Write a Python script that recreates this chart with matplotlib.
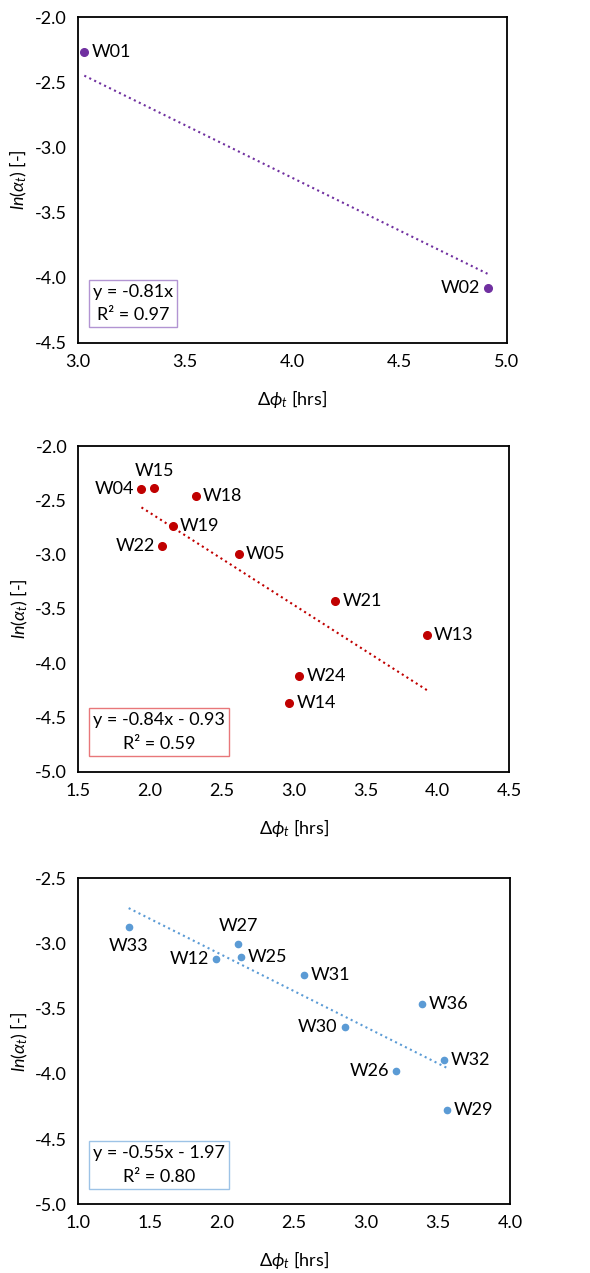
import numpy as np
import matplotlib
matplotlib.use("Agg")
from matplotlib import pyplot as plt

plt.rcParams['font.family'] = ['Lato', 'DejaVu Sans']
plt.rcParams['mathtext.fontset'] = 'custom'
plt.rcParams['mathtext.rm'] = 'Lato'
plt.rcParams['mathtext.it'] = 'Lato:italic'
plt.rcParams['font.size'] = 12

# --- group 1 ---
wells_a = ['W01', 'W02']
dphi_a = [3.03, 4.91]
lnalpha_a = [-2.27, -4.08]
pos_a = ['right', 'left']
eq_a = 'y = -0.81x\nR² = 0.97'

# --- group 2 ---
wells_b = ['W04', 'W15', 'W18', 'W19', 'W22', 'W05', 'W21', 'W13', 'W24', 'W14']
dphi_b = [1.94, 2.03, 2.32, 2.16, 2.08, 2.62, 3.29, 3.93, 3.04, 2.97]
lnalpha_b = [-2.40, -2.39, -2.46, -2.74, -2.92, -2.99, -3.43, -3.74, -4.12, -4.37]
pos_b = ['left', 'above', 'right', 'right', 'left', 'right', 'right', 'right', 'right', 'right']
eq_b = 'y = -0.84x - 0.93\nR² = 0.59'

# --- group 3 ---
wells_c = ['W33', 'W27', 'W12', 'W25', 'W31', 'W36', 'W30', 'W32', 'W26', 'W29']
dphi_c = [1.35, 2.11, 1.96, 2.13, 2.57, 3.39, 2.85, 3.54, 3.21, 3.56]
lnalpha_c = [-2.87, -3.00, -3.12, -3.10, -3.24, -3.46, -3.64, -3.89, -3.98, -4.28]
pos_c = ['below', 'above', 'left', 'right', 'right', 'right', 'left', 'right', 'left', 'right']
eq_c = 'y = -0.55x - 1.97\nR² = 0.80'

offsets = {'right': ((5, 0), 'left', 'center'),
           'left': ((-5, 0), 'right', 'center'),
           'above': ((0, 7), 'center', 'bottom'),
           'below': ((0, -8), 'center', 'top')}


def draw_panel(ax, x, y, names, pos, eq, color, boxcolor, msize, xlim, ylim, through_origin=False):
    x = np.array(x)
    y = np.array(y)
    ax.plot(x, y, 'o', color=color, markersize=msize, zorder=3)
    for xi, yi, n, p in zip(x, y, names, pos):
        off, ha, va = offsets[p]
        ax.annotate(n, (xi, yi), xytext=off, textcoords='offset points',
                    ha=ha, va=va, fontsize=13)
    # linear trendline
    if through_origin:
        slope = np.sum(x * y) / np.sum(x * x)
        icpt = 0.
    else:
        slope, icpt = np.polyfit(x, y, 1)
    xx = np.array([x.min(), x.max()])
    ax.plot(xx, slope * xx + icpt, ':', color=color, linewidth=1.5)
    ax.text(0.035, 0.06, eq, transform=ax.transAxes, ha='left', va='bottom',
            multialignment='center', fontsize=13, linespacing=1.6,
            bbox=dict(boxstyle='square,pad=0.22', facecolor='white', edgecolor=boxcolor, linewidth=1))
    ax.set_xlim(*xlim)
    ax.set_ylim(*ylim)
    ax.set_xticks(np.arange(xlim[0], xlim[1] + 0.01, 0.5))
    ax.set_yticks(np.arange(ylim[0], ylim[1] + 0.01, 0.5))
    ax.xaxis.set_major_formatter(matplotlib.ticker.FormatStrFormatter('%.1f'))
    ax.yaxis.set_major_formatter(matplotlib.ticker.FormatStrFormatter('%.1f'))
    ax.tick_params(length=0, pad=8, labelsize=13)
    for s in ax.spines.values():
        s.set_linewidth(1.3)
    ax.set_xlabel(r'$\Delta\phi_t$ [hrs]', fontsize=13, labelpad=13)
    ax.set_ylabel(r'$ln(\alpha_t)$ [-]', fontsize=13, labelpad=4)


fig = plt.figure(figsize=(5.9, 12.73), dpi=100)
ax1 = fig.add_axes([0.132, 0.7306, 0.727, 0.256])
ax2 = fig.add_axes([0.1327, 0.3938, 0.730, 0.2558])
ax3 = fig.add_axes([0.1327, 0.0540, 0.7317, 0.256])

draw_panel(ax1, dphi_a, lnalpha_a, wells_a, pos_a, eq_a, '#7030A0', '#B294D2', 5.5,
           (3.0, 5.0), (-4.5, -2.0), through_origin=True)
draw_panel(ax2, dphi_b, lnalpha_b, wells_b, pos_b, eq_b, '#C00000', '#E8777A', 5.5,
           (1.5, 4.5), (-5.0, -2.0))
draw_panel(ax3, dphi_c, lnalpha_c, wells_c, pos_c, eq_c, '#5B9BD5', '#9DC3E6', 4.5,
           (1.0, 4.0), (-5.0, -2.5))

plt.savefig('out.png', dpi=100)
